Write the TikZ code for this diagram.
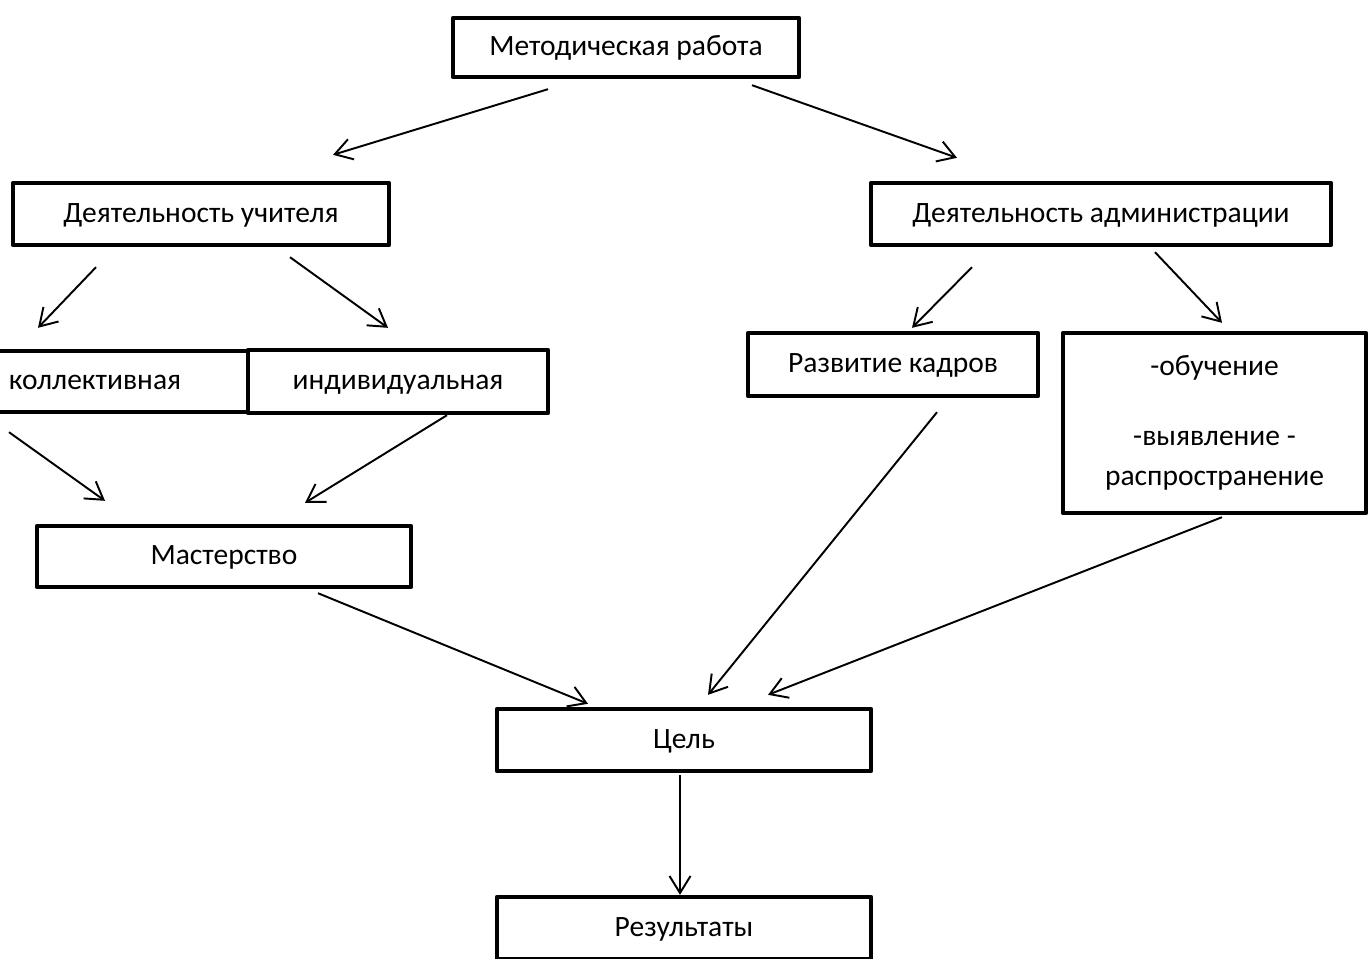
\documentclass[tikz,border=0pt]{standalone}
\usepackage{fontspec}
\setmainfont{Carlito}
\usetikzlibrary{arrows.meta,calc}

\begin{document}
\begin{tikzpicture}[x=0.02cm, y=-0.02cm,
    box/.style={draw, line width=2.5pt, line join=round, minimum height=1.24cm, inner sep=0pt,
                font=\fontsize{16.8}{22.7}\selectfont},
    cell/.style={box, text height=11pt, text depth=1.4pt},
    arr/.style={line width=1.1pt, -{Straight Barb[length=0.34cm, width=0.42cm, line width=1.1pt]}}]
    \useasboundingbox (0,0) rectangle (1368,958);

    % Boxes
    \node[cell, minimum width=6.92cm, minimum height=1.18cm] (mr) at (626,47.5) {Методическая работа};
    \node[cell, minimum width=7.52cm] (du) at (201,214) {Деятельность учителя};
    \node[cell, minimum width=9.20cm] (da) at (1101,214) {Деятельность администрации};
    \node[cell, minimum width=6.12cm, minimum height=1.22cm] (kol) at (95,381.5) {коллективная};
    \node[cell, minimum width=6.00cm, minimum height=1.26cm] (ind) at (398,381.5) {индивидуальная};
    \node[cell, minimum width=5.80cm, minimum height=1.26cm] (rk) at (893,364.5) {Развитие кадров};
    \node[box, minimum width=6.06cm, minimum height=3.60cm, align=center] (obu) at (1214.5,423)
        {-обучение\\[17pt]-выявление -\\распространение};
    \node[cell, minimum width=7.48cm, minimum height=1.22cm] (mas) at (224,556.5) {Мастерство};
    \node[cell, minimum width=7.48cm] (cel) at (684,740) {Цель};
    \node[cell, minimum width=7.48cm] (res) at (684,928) {Результаты};

    % Draw arrows
    \draw[arr] ($(mr.south)+(-78,10)$) -- ($(du.north)+(132,-26)$);
    \draw[arr] ($(mr.south)+(126,6)$) -- ($(da.north)+(-144,-23)$);
    \draw[arr] ($(du.south)+(-105,20)$) -- ($(kol.north)+(-57,-21)$);
    \draw[arr] ($(du.south)+(89,10)$) -- ($(ind.north)+(-10,-20)$);
    \draw[arr] ($(da.south)+(-129,20)$) -- ($(rk.north)+(19,-3)$);
    \draw[arr] ($(da.south)+(54,5)$) -- ($(obu.north)+(7.5,-8)$);
    \draw[arr] ($(kol.south)+(-86,18)$) -- ($(mas.north)+(-119,-23)$);
    \draw[arr] ($(ind.south)+(49,0)$) -- ($(mas.north)+(81,-21)$);
    \draw[arr] ($(rk.south)+(44,14)$) -- ($(cel.north)+(24,-12)$);
    \draw[arr] ($(obu.south)+(7.5,2)$) -- ($(cel.north)+(84,-12)$);
    \draw[arr] ($(mas.south)+(94,4)$) -- ($(cel.north)+(-96,-3)$);
    \draw[arr] ($(cel.south)+(-4,2)$) -- ($(res.north)+(-4,0)$);

\end{tikzpicture}
\end{document}
